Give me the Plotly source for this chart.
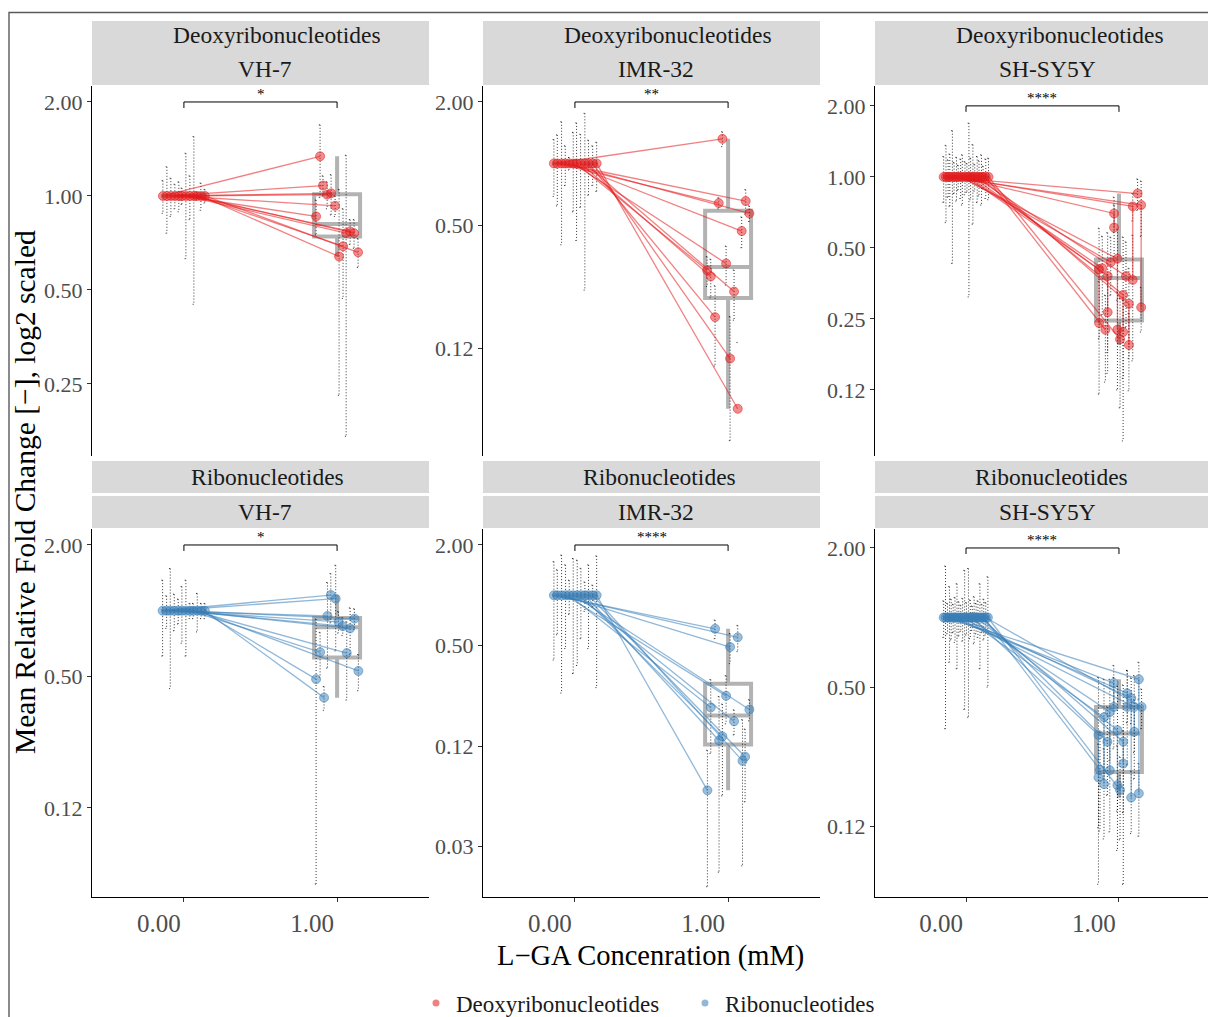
import numpy as np
import plotly.graph_objects as go

# ---------------------------------------------------------------- data
conc_values = [0, 1]
conc_labels = ["0.00", "1.00"]
nucleotide_types = ["Deoxyribonucleotides", "Ribonucleotides"]
cell_lines = ["VH-7", "IMR-32", "SH-SY5Y"]
signif_labels = ["*", "**", "****", "*", "****", "****"]

# --- Deoxyribonucleotides / VH-7
dVH7_x0 = [-0.137, -0.111, -0.085, -0.059, -0.033, -0.013, 0.013, 0.039, 0.065, 0.085, 0.111, 0.137]
dVH7_y0 = [1.0, 1.0, 1.0, 1.0, 1.0, 1.0, 1.0, 1.0, 1.0, 1.0, 1.0, 1.0]
dVH7_sd0 = [0.12, 0.24, 0.14, 0.09, 0.11, 0.06, 0.37, 0.16, 0.55, 0.03, 0.10, 0.05]
dVH7_x1 = [0.889, 0.908, 0.935, 0.961, 0.987, 0.863, 1.059, 1.085, 1.111, 1.039, 1.013, 1.137]
dVH7_y1 = [1.34, 1.08, 1.01, 1.02, 0.93, 0.86, 0.76, 0.77, 0.76, 0.69, 0.64, 0.66]
dVH7_sd1 = [0.35, 0.08, 0.10, 0.15, 0.07, 0.11, 0.59, 0.07, 0.08, 0.22, 0.41, 0.07]
dVH7_grp = [1, 2, 3, 4, 5, 6, 7, 8, 9, 10, 11, 12]

# --- Deoxyribonucleotides / IMR-32
dIMR_x0 = [-0.137, -0.115, -0.087, -0.063, -0.037, -0.011, 0.011, 0.037, 0.065, 0.089, 0.116, 0.142]
dIMR_y0 = [1.0, 1.0, 1.0, 1.0, 1.0, 1.0, 1.0, 1.0, 1.0, 1.0, 1.0, 1.0]
dIMR_sd0 = [0.31, 0.38, 0.60, 0.22, 0.07, 0.42, 0.58, 0.39, 0.76, 0.30, 0.22, 0.27]
dIMR_x1 = [0.963, 0.939, 1.115, 1.139, 1.089, 0.987, 0.863, 0.887, 1.039, 0.915, 1.013, 1.063]
dIMR_y1 = [1.32, 0.64, 0.655, 0.57, 0.467, 0.324, 0.30, 0.28, 0.236, 0.177, 0.111, 0.063]
dIMR_sd1 = [0.11, 0.04, 0.09, 0.05, 0.08, 0.07, 0.05, 0.06, 0.065, 0.075, 0.067, 0.07]
dIMR_grp = [1, 2, 3, 4, 5, 6, 7, 8, 9, 10, 11, 12]

# --- Deoxyribonucleotides / SH-SY5Y
dSH_x0 = [-0.146, -0.131, -0.117, -0.106, -0.089, -0.078, -0.062, -0.051, -0.035, -0.024, -0.007,
          0.006, 0.019, 0.030, 0.045, 0.057, 0.073, 0.085, 0.101, 0.112, 0.129, 0.147]
dSH_y0 = [1.0, 1.0, 1.0, 1.0, 1.0, 1.0, 1.0, 1.0, 1.0, 1.0, 1.0,
          1.0, 1.0, 1.0, 1.0, 1.0, 1.0, 1.0, 1.0, 1.0, 1.0, 1.0]
dSH_sd0 = [0.22, 0.36, 0.18, 0.25, 0.57, 0.15, 0.21, 0.12, 0.19, 0.24, 0.16,
           0.14, 0.69, 0.20, 0.37, 0.13, 0.22, 0.17, 0.24, 0.11, 0.19, 0.20]
dSH_x1 = [1.122, 1.145, 1.145, 1.090, 1.090, 0.968, 0.968, 0.990, 0.990, 0.946, 0.870,
          0.870, 0.891, 0.926, 0.926, 1.046, 1.027, 1.027, 1.065, 1.065, 0.911, 1.007]
dSH_y1 = [0.85, 0.76, 0.28, 0.75, 0.366, 0.70, 0.61, 0.45, 0.225, 0.435, 0.406,
          0.24, 0.41, 0.38, 0.267, 0.38, 0.316, 0.22, 0.29, 0.194, 0.225, 0.205]
dSH_sd1 = [0.13, 0.20, 0.06, 0.10, 0.20, 0.12, 0.15, 0.15, 0.10, 0.12, 0.20,
           0.12, 0.15, 0.20, 0.12, 0.15, 0.24, 0.08, 0.12, 0.07, 0.09, 0.10]
dSH_grp = [1, 2, 2, 3, 3, 4, 4, 5, 5, 6, 7, 7, 8, 9, 9, 10, 11, 11, 12, 12, 13, 14]

# --- Ribonucleotides / VH-7
rVH7_x0 = [-0.139, -0.113, -0.089, -0.063, -0.037, -0.013, 0.013, 0.039, 0.061, 0.087, 0.113, 0.137]
rVH7_y0 = [1.0, 1.0, 1.0, 1.0, 1.0, 1.0, 1.0, 1.0, 1.0, 1.0, 1.0, 1.0]
rVH7_sd0 = [0.38, 0.17, 0.56, 0.19, 0.13, 0.29, 0.38, 0.08, 0.08, 0.20, 0.08, 0.08]
rVH7_x1 = [0.959, 0.991, 0.937, 1.009, 1.113, 1.037, 1.085, 0.889, 1.063, 1.139, 0.863, 0.915]
rVH7_y1 = [1.18, 1.135, 0.946, 0.89, 0.92, 0.85, 0.83, 0.646, 0.64, 0.53, 0.486, 0.40]
rVH7_sd1 = [0.30, 0.48, 0.40, 0.10, 0.10, 0.08, 0.20, 0.15, 0.25, 0.10, 0.43, 0.05]
rVH7_grp = [1, 2, 3, 4, 5, 6, 7, 8, 9, 10, 11, 12]

# --- Ribonucleotides / IMR-32
rIMR_x0 = [-0.137, -0.115, -0.087, -0.061, -0.037, -0.011, 0.015, 0.039, 0.065, 0.089, 0.116, 0.142]
rIMR_y0 = [1.0, 1.0, 1.0, 1.0, 1.0, 1.0, 1.0, 1.0, 1.0, 1.0, 1.0, 1.0]
rIMR_sd0 = [0.59, 0.42, 0.74, 0.52, 0.23, 0.66, 0.62, 0.45, 0.20, 0.52, 0.15, 0.72]
rIMR_x1 = [0.915, 1.063, 1.013, 0.987, 0.887, 1.139, 1.039, 0.963, 0.941, 1.111, 1.094, 0.865]
rIMR_y1 = [0.63, 0.56, 0.49, 0.25, 0.213, 0.207, 0.176, 0.143, 0.135, 0.108, 0.102, 0.068]
rIMR_sd1 = [0.08, 0.10, 0.10, 0.08, 0.10, 0.03, 0.03, 0.08, 0.113, 0.05, 0.078, 0.05]
rIMR_grp = [1, 2, 3, 4, 5, 6, 7, 8, 9, 10, 11, 12]

# --- Ribonucleotides / SH-SY5Y
rSH_x0 = [-0.146, -0.134, -0.121, -0.108, -0.097, -0.084, -0.072, -0.059, -0.047, -0.034, -0.022, -0.009,
          0.003, 0.016, 0.028, 0.041, 0.053, 0.066, 0.078, 0.091, 0.104, 0.116, 0.129, 0.143]
rSH_y0 = [1.0, 1.0, 1.0, 1.0, 1.0, 1.0, 1.0, 1.0, 1.0, 1.0, 1.0, 1.0,
          1.0, 1.0, 1.0, 1.0, 1.0, 1.0, 1.0, 1.0, 1.0, 1.0, 1.0, 1.0]
rSH_sd0 = [0.18, 0.67, 0.15, 0.36, 0.20, 0.14, 0.22, 0.40, 0.17, 0.13, 0.21, 0.60,
           0.16, 0.63, 0.19, 0.12, 0.23, 0.15, 0.18, 0.40, 0.14, 0.20, 0.16, 0.50]
rSH_x1 = [1.130, 1.130, 0.966, 0.966, 1.054, 1.054, 1.100, 1.100, 1.080, 1.080, 0.902, 0.902,
          0.940, 0.940, 0.866, 0.866, 0.990, 0.990, 1.028, 1.028, 0.924, 0.876, 1.148, 1.007]
rSH_y1 = [0.54, 0.173, 0.52, 0.41, 0.47, 0.41, 0.41, 0.32, 0.447, 0.166, 0.37, 0.19,
          0.39, 0.218, 0.31, 0.203, 0.325, 0.188, 0.29, 0.233, 0.29, 0.219, 0.41, 0.179]
rSH_sd1 = [0.10, 0.06, 0.10, 0.14, 0.12, 0.18, 0.15, 0.12, 0.10, 0.05, 0.17, 0.08,
           0.15, 0.10, 0.24, 0.08, 0.18, 0.09, 0.22, 0.09, 0.12, 0.10, 0.08, 0.07]
rSH_grp = [1, 1, 2, 2, 3, 3, 4, 4, 5, 5, 6, 6, 7, 7, 8, 8, 9, 9, 10, 10, 11, 12, 13, 14]

# y-axis breaks per panel
breaks_A = [2, 1, 0.5, 0.25]
breaks_B = [2, 0.5, 0.125]
breaks_C = [2, 1, 0.5, 0.25, 0.125]
breaks_D = [2, 0.5, 0.125]
breaks_E = [2, 0.5, 0.125, 0.03125]
breaks_F = [2, 0.5, 0.125]
labels_A = ["2.00", "1.00", "0.50", "0.25"]
labels_B = ["2.00", "0.50", "0.12"]
labels_C = ["2.00", "1.00", "0.50", "0.25", "0.12"]
labels_D = ["2.00", "0.50", "0.12"]
labels_E = ["2.00", "0.50", "0.12", "0.03"]
labels_F = ["2.00", "0.50", "0.12"]
bracket_y = 2.0

# ---------------------------------------------------------------- style / layout
W, H = 1208, 1017
FONT = "Liberation Serif"
RED = (228, 26, 28)
BLUE = (55, 126, 184)
BOX_COL = "#B3B3B3"

col_px = [(92, 429), (483, 820), (875, 1208)]
row_px = [(86, 456), (529, 897)]
xranges = [[-0.6, 1.6], [-0.6, 1.6], [-0.595, 1.582]]
# visible log2 span of each panel (bottom, top)
yspan_log2 = [(-2.766, 1.17), (-4.756, 1.26), (-3.93, 1.28),
              (-4.354, 1.243), (-6.0, 1.318), (-4.02, 1.273)]

panels = [
    dict(x0=dVH7_x0, y0=dVH7_y0, sd0=dVH7_sd0, x1=dVH7_x1, y1=dVH7_y1, sd1=dVH7_sd1, grp=dVH7_grp,
         col=RED, br=breaks_A, bl=labels_A),
    dict(x0=dIMR_x0, y0=dIMR_y0, sd0=dIMR_sd0, x1=dIMR_x1, y1=dIMR_y1, sd1=dIMR_sd1, grp=dIMR_grp,
         col=RED, br=breaks_B, bl=labels_B),
    dict(x0=dSH_x0, y0=dSH_y0, sd0=dSH_sd0, x1=dSH_x1, y1=dSH_y1, sd1=dSH_sd1, grp=dSH_grp,
         col=RED, br=breaks_C, bl=labels_C),
    dict(x0=rVH7_x0, y0=rVH7_y0, sd0=rVH7_sd0, x1=rVH7_x1, y1=rVH7_y1, sd1=rVH7_sd1, grp=rVH7_grp,
         col=BLUE, br=breaks_D, bl=labels_D),
    dict(x0=rIMR_x0, y0=rIMR_y0, sd0=rIMR_sd0, x1=rIMR_x1, y1=rIMR_y1, sd1=rIMR_sd1, grp=rIMR_grp,
         col=BLUE, br=breaks_E, bl=labels_E),
    dict(x0=rSH_x0, y0=rSH_y0, sd0=rSH_sd0, x1=rSH_x1, y1=rSH_y1, sd1=rSH_sd1, grp=rSH_grp,
         col=BLUE, br=breaks_F, bl=labels_F),
]


def rgba(c, a):
    return f"rgba({c[0]},{c[1]},{c[2]},{a})"


def box_stats(vals):
    lv = np.log2(np.asarray(vals, dtype=float))
    q1, med, q3 = np.percentile(lv, [25, 50, 75])
    iqr = q3 - q1
    lo = lv[lv >= q1 - 1.5 * iqr].min()
    hi = lv[lv <= q3 + 1.5 * iqr].max()
    return [float(2 ** v) for v in (lo, q1, med, q3, hi)]


fig = go.Figure()
layout = dict(width=W, height=H, margin=dict(l=0, r=0, t=0, b=0, autoexpand=False),
              paper_bgcolor="white", plot_bgcolor="white", showlegend=True)
annotations, shapes = [], []
CAP = 0.008

for k, p in enumerate(panels):
    r, c = divmod(k, 3)
    xa = "x" if k == 0 else f"x{k + 1}"
    ya = "y" if k == 0 else f"y{k + 1}"
    xkey = "xaxis" if k == 0 else f"xaxis{k + 1}"
    ykey = "yaxis" if k == 0 else f"yaxis{k + 1}"
    col = p["col"]

    # box plots
    s0 = box_stats(p["y0"])
    s1 = box_stats(p["y1"])
    fig.add_trace(go.Box(x=conc_values, lowerfence=[s0[0], s1[0]], q1=[s0[1], s1[1]],
                         median=[s0[2], s1[2]], q3=[s0[3], s1[3]], upperfence=[s0[4], s1[4]],
                         width=0.30, whiskerwidth=0, boxpoints=False,
                         line=dict(color=BOX_COL, width=4), fillcolor="rgba(0,0,0,0)",
                         xaxis=xa, yaxis=ya, showlegend=False, hoverinfo="skip"))

    # error bars (mean +/- sd), dotted
    ex, ey = [], []
    obs = [(xx, yy, ss) for xx, yy, ss in zip(p["x0"], p["y0"], p["sd0"])] + \
          [(xx, yy, ss) for xx, yy, ss in zip(p["x1"], p["y1"], p["sd1"])]
    for xx, yy, ss in obs:
        hi = yy + ss
        lo = yy - ss
        ex += [xx - CAP, xx + CAP, None]
        ey += [hi, hi, None]
        if lo > 0:
            ex += [xx, xx, None, xx - CAP, xx + CAP, None]
            ey += [hi, lo, None, lo, lo, None]
    fig.add_trace(go.Scatter(x=ex, y=ey, mode="lines", xaxis=xa, yaxis=ya,
                             line=dict(color="rgba(0,0,0,0.8)", width=1, dash="1px,2px"),
                             showlegend=False, hoverinfo="skip"))

    # connecting lines, one path per group sorted by x
    lx, ly = [], []
    groups = {}
    for i, g in enumerate(p["grp"]):
        groups.setdefault(g, []).append(i)
    for g, idx in groups.items():
        pts = [(p["x0"][i], p["y0"][i]) for i in idx] + [(p["x1"][i], p["y1"][i]) for i in idx]
        pts = sorted(pts, key=lambda t: t[0])
        lx += [t[0] for t in pts] + [None]
        ly += [t[1] for t in pts] + [None]
    fig.add_trace(go.Scatter(x=lx, y=ly, mode="lines", xaxis=xa, yaxis=ya,
                             line=dict(color=rgba(col, 0.55), width=1.3),
                             showlegend=False, hoverinfo="skip"))

    # points
    fig.add_trace(go.Scatter(x=list(p["x0"]) + list(p["x1"]), y=list(p["y0"]) + list(p["y1"]),
                             mode="markers", xaxis=xa, yaxis=ya,
                             marker=dict(size=9, color=rgba(col, 0.5),
                                         line=dict(color=rgba(col, 0.65), width=0.8)),
                             showlegend=False, hoverinfo="skip"))

    # significance bracket
    lo2, hi2 = yspan_log2[k]
    tip = 6.0 * (hi2 - lo2) / (row_px[r][1] - row_px[r][0])
    yt = bracket_y / 2 ** tip
    fig.add_trace(go.Scatter(x=[conc_values[0], conc_values[0], conc_values[1], conc_values[1]],
                             y=[yt, bracket_y, bracket_y, yt], mode="lines", xaxis=xa, yaxis=ya,
                             line=dict(color="black", width=1), showlegend=False, hoverinfo="skip"))
    annotations.append(dict(x=0.5, y=np.log10(bracket_y), xref=xa, yref=ya, text=signif_labels[k],
                            showarrow=False, yanchor="bottom", yshift=-2,
                            font=dict(family=FONT, size=15, color="black")))

    # axes
    x0p, x1p = col_px[c]
    y0p, y1p = row_px[r]
    layout[xkey] = dict(domain=[x0p / W, min(x1p / W, 1.0)], range=xranges[c], anchor=ya,
                        showgrid=False, zeroline=False,
                        showline=(r == 1), linecolor="black", linewidth=1.2,
                        ticks="outside" if r == 1 else "", ticklen=4, tickcolor="#333333",
                        tickvals=conc_values, ticktext=conc_labels, showticklabels=(r == 1),
                        ticklabelshift=-25,
                        tickfont=dict(family=FONT, size=25, color="#4D4D4D"))
    layout[ykey] = dict(domain=[1 - y1p / H, 1 - y0p / H], type="log",
                        range=[lo2 * np.log10(2), hi2 * np.log10(2)], anchor=xa,
                        showgrid=False, zeroline=False, showline=True, linecolor="black",
                        linewidth=1.2, ticks="outside", ticklen=4, tickcolor="#333333",
                        tickvals=p["br"], ticktext=p["bl"],
                        tickfont=dict(family=FONT, size=22, color="#4D4D4D"))

# legend entries
for name, col in zip(nucleotide_types, [RED, BLUE]):
    fig.add_trace(go.Scatter(x=[None], y=[None], mode="markers", name=name,
                             marker=dict(size=7, color=rgba(col, 0.55)), showlegend=True))

# strips
STRIP = "#D9D9D9"
for c, (x0p, x1p) in enumerate(col_px):
    xr = x1p / W if c < 2 else 1.02
    for (ya0, ya1) in [(21, 85), (461, 493), (496, 528)]:
        shapes.append(dict(type="rect", xref="paper", yref="paper", x0=x0p / W, x1=xr,
                           y0=1 - ya1 / H, y1=1 - ya0 / H, fillcolor=STRIP, line=dict(width=0),
                           layer="below"))

strip_rows = [
    (35, nucleotide_types[0], [277, 668, 1060]),
    (69, None, [265, 656, 1047]),
    (477, nucleotide_types[1], [267, 659, 1051]),
    (512, None, [265, 656, 1047]),
]
for ypx, label, xcs in strip_rows:
    for c, xc in enumerate(xcs):
        txt = label if label is not None else cell_lines[c]
        annotations.append(dict(x=xc / W, y=1 - ypx / H, xref="paper", yref="paper", text=txt,
                                showarrow=False, xanchor="center", yanchor="middle",
                                font=dict(family=FONT, size=23.5, color="#1A1A1A")))

# axis titles
annotations.append(dict(x=25 / W, y=1 - 492 / H, xref="paper", yref="paper",
                        text="Mean Relative Fold Change [\u2212], log2 scaled", textangle=-90,
                        showarrow=False, xanchor="center", yanchor="middle",
                        font=dict(family=FONT, size=29.5, color="black")))
annotations.append(dict(x=650 / W, y=1 - 956 / H, xref="paper", yref="paper",
                        text="L\u2212GA Concenration (mM)", showarrow=False,
                        xanchor="center", yanchor="middle",
                        font=dict(family=FONT, size=28.5, color="black")))

# outer frame
shapes.append(dict(type="rect", xref="paper", yref="paper", x0=9 / W, x1=1.02, y0=-0.02,
                   y1=1 - 12.5 / H, line=dict(color="#5A5A5A", width=1.4), fillcolor="rgba(0,0,0,0)"))

layout["annotations"] = annotations
layout["shapes"] = shapes
layout["legend"] = dict(orientation="h", x=416 / W, xanchor="left", y=1 - 1003 / H, yanchor="middle",
                        entrywidth=224, entrywidthmode="pixels",
                        font=dict(family=FONT, size=23, color="#1A1A1A"), bgcolor="rgba(0,0,0,0)",
                        itemclick=False)
fig.update_layout(**layout)
fig.write_html("out.html")
